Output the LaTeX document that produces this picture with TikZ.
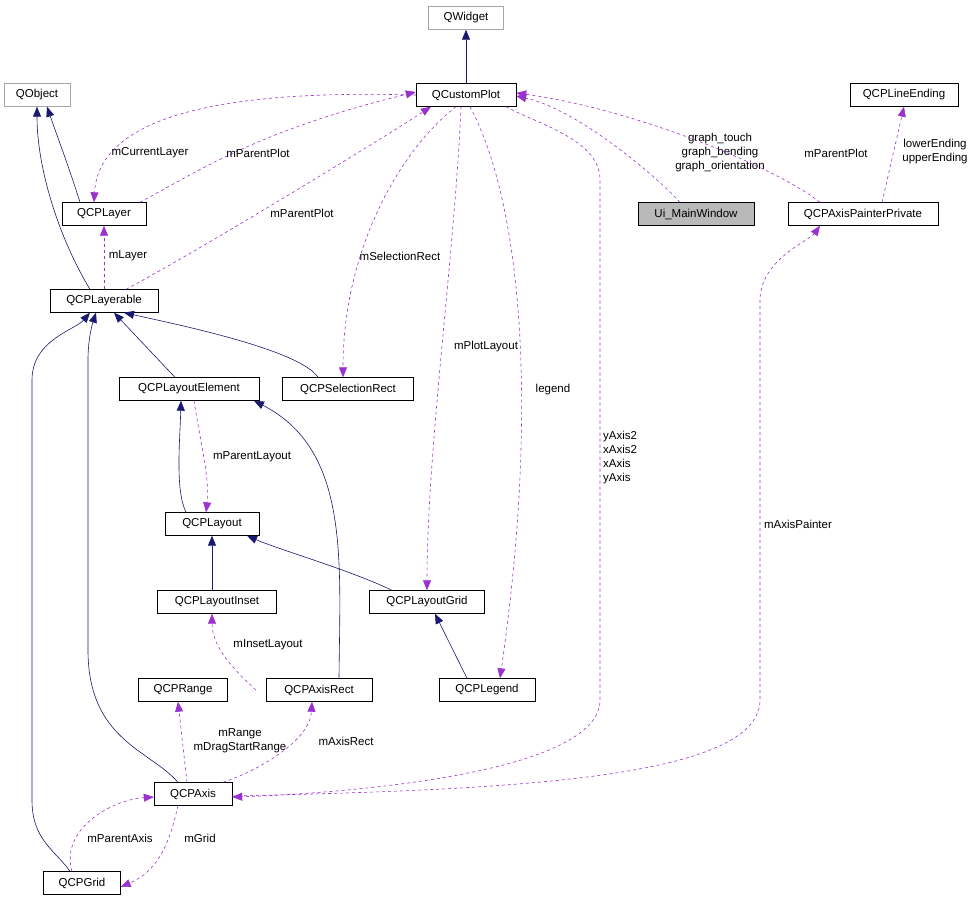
\documentclass[tikz,border=0pt]{standalone}
\usepackage{fontspec}
\setmainfont{Liberation Sans}
\usetikzlibrary{arrows.meta}
\definecolor{nv}{HTML}{191970}
\definecolor{pu}{HTML}{9A32CD}
\begin{document}
\begin{tikzpicture}[x=1pt,y=-1pt,font=\fontsize{11.5}{13}\selectfont,
 box/.style={draw=black,fill=white,minimum height=23pt,inner sep=0pt,anchor=center},
 gbox/.style={box,draw=gray!70},
 inh/.style={draw=nv,-{Triangle[length=10pt,width=8pt]},semithick},
 use/.style={draw=pu,dashed,-{Triangle[length=10pt,width=8pt]},semithick},
 lab/.style={align=center,inner sep=1pt,font=\fontsize{11.5}{14}\selectfont}]
\useasboundingbox (0,0) rectangle (978,903);
\node[gbox,minimum width=75pt] (qw) at (466,18) {QWidget};
\node[box,minimum width=100pt] (cp) at (466,95) {QCustomPlot};
\node[gbox,minimum width=66pt] (qo) at (37,95) {QObject};
\node[box,minimum width=108pt] (le) at (904,95) {QCPLineEnding};
\node[box,minimum width=84pt] (ly) at (104,214) {QCPLayer};
\node[box,minimum width=116pt,fill=gray!55] (ui) at (696,214) {Ui\_MainWindow};
\node[box,minimum width=150pt] (ap) at (863,214) {QCPAxisPainterPrivate};
\node[box,minimum width=108pt] (lb) at (104,301) {QCPLayerable};
\node[box,minimum width=140pt] (el) at (189,389) {QCPLayoutElement};
\node[box,minimum width=131pt] (sr) at (348,389) {QCPSelectionRect};
\node[box,minimum width=94pt] (lo) at (212,524) {QCPLayout};
\node[box,minimum width=119pt] (li) at (217,602) {QCPLayoutInset};
\node[box,minimum width=115pt] (lg) at (427,602) {QCPLayoutGrid};
\node[box,minimum width=89pt] (rg) at (183,690) {QCPRange};
\node[box,minimum width=106pt] (ar) at (319,690) {QCPAxisRect};
\node[box,minimum width=96pt] (lgd) at (487,690) {QCPLegend};
\node[box,minimum width=78pt] (ax) at (193,794) {QCPAxis};
\node[box,minimum width=77pt] (gr) at (82,883) {QCPGrid};

% inheritance
\draw[inh] (cp.north) -- (qw.south);
\draw[inh] ([xshift=-24pt]ly.north) .. controls (70,170) and (55,130) .. ([xshift=10pt]qo.south);
\draw[inh] ([xshift=-14pt]lb.north) .. controls (60,240) and (37,170) .. (qo.south);
\draw[inh] ([xshift=-14pt]el.north) -- ([xshift=10pt]lb.south);
\draw[inh] ([xshift=-30pt]sr.north) .. controls (300,350) and (180,325) .. ([xshift=20pt]lb.south);
\draw[inh] ([xshift=-26pt]lo.north) .. controls (175,490) and (180,440) .. ([xshift=-8pt]el.south);
\draw[inh] ([xshift=20pt]ar.north) .. controls (340,560) and (350,450) .. ([xshift=65pt]el.south);
\draw[inh] (li.north -| lo.south) -- (lo.south);
\draw[inh] ([xshift=-35pt]lg.north) .. controls (350,570) and (280,550) .. ([xshift=35pt]lo.south);
\draw[inh] ([xshift=-20pt]lgd.north) -- ([xshift=8pt]lg.south);
\draw[inh] ([xshift=-15pt]ax.north) .. controls (150,750) and (88,740) .. (88,650) -- (88,360) .. controls (88,340) and (92,325) .. ([xshift=-8pt]lb.south);
\draw[inh] ([xshift=-12pt]gr.north) .. controls (55,850) and (32,840) .. (32,800) -- (32,380) .. controls (32,340) and (75,330) .. ([xshift=-14pt]lb.south);

% usage
\draw[use] (cp.west) .. controls (300,92) and (100,95) .. ([xshift=-10pt]ly.north);
\node[lab] at (150,153) {mCurrentLayer};
\draw[use] ([xshift=36pt]ly.north) .. controls (200,170) and (260,130) .. ([yshift=3pt]cp.west);
\node[lab] at (258,153) {mParentPlot};
\draw[use] ([xshift=22pt]lb.north) .. controls (200,250) and (380,140) .. ([xshift=-35pt]cp.south);
\node[lab] at (302,213) {mParentPlot};
\draw[use] (lb.north) -- (ly.south);
\node[lab] at (128,256) {mLayer};
\draw[use] ([xshift=-10pt]cp.south) .. controls (400,150) and (343,250) .. ([xshift=-5pt]sr.north);
\node[lab] at (400,256) {mSelectionRect};
\draw[use] ([xshift=-5pt]cp.south) .. controls (455,250) and (427,450) .. (lg.north);
\node[lab] at (486,347) {mPlotLayout};
\draw[use] ([xshift=4pt]cp.south) .. controls (520,200) and (540,400) .. ([xshift=13pt]lgd.north);
\node[lab] at (553,390) {legend};
\draw[use] ([xshift=40pt]cp.south) .. controls (540,125) and (600,140) .. (600,180) -- (600,700) .. controls (600,780) and (300,795) .. ([yshift=-3pt]ax.east);
\node[lab,align=left,anchor=west] at (602,458) {yAxis2\\xAxis2\\xAxis\\yAxis};
\draw[use] ([xshift=-16pt]ui.north) .. controls (660,180) and (580,110) .. ([yshift=-1pt]cp.east);
\node[lab] at (720,153) {graph\_touch\\graph\_bending\\graph\_orientation};
\draw[use] ([xshift=-43pt]ap.north) .. controls (780,170) and (640,110) .. ([yshift=2pt]cp.east);
\node[lab] at (836,153) {mParentPlot};
\draw[use] ([xshift=19pt]ap.north) -- (le.south);
\node[lab] at (935,152) {lowerEnding\\upperEnding};
\draw[use] ([yshift=-2pt]ax.east) .. controls (500,790) and (760,780) .. (760,700) -- (760,300) .. controls (760,260) and (810,240) .. ([xshift=-43pt]ap.south);
\node[lab] at (798,524) {mAxisPainter};
\draw[use] ([xshift=5pt]el.south) .. controls (200,440) and (210,480) .. ([xshift=-6pt]lo.north);
\node[lab] at (252,457) {mParentLayout};
\draw[use] ([xshift=-10pt]ar.west) .. controls (240,675) and (212,650) .. ([xshift=-5pt]li.south);
\node[lab] at (268,645) {mInsetLayout};
\draw[use] ([xshift=-6pt]ax.north) -- ([xshift=-5pt]rg.south);
\node[lab] at (240,741) {mRange\\mDragStartRange};
\draw[use] ([xshift=30pt]ax.north) .. controls (260,770) and (310,740) .. ([xshift=-7pt]ar.south);
\node[lab] at (346,741) {mAxisRect};
\draw[use] ([xshift=-10pt]gr.north) .. controls (60,830) and (110,800) .. ([yshift=-3pt]ax.west);
\node[lab] at (120,838) {mParentAxis};
\draw[use] ([xshift=-15pt]ax.south) .. controls (170,840) and (160,870) .. ([yshift=-4pt]gr.east);
\node[lab] at (200,838) {mGrid};
\end{tikzpicture}
\end{document}
